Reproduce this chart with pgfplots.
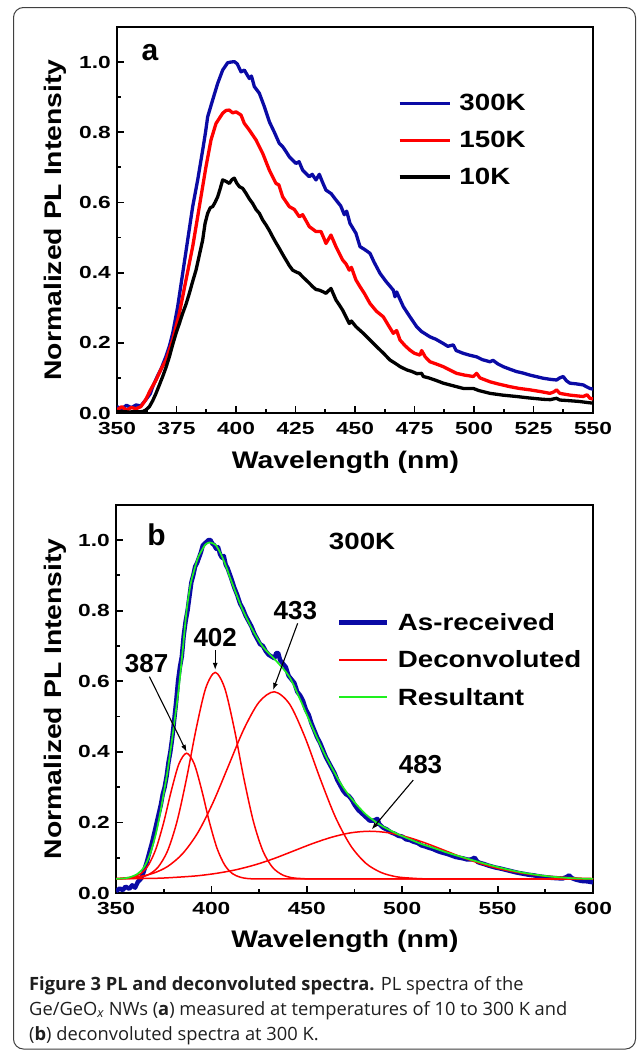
\documentclass[border=0pt]{standalone}
\usepackage{fontspec}
\setmainfont{Liberation Sans}
\newfontfamily\chartS[FakeStretch=1.18]{Liberation Sans}
\newfontfamily\chartT[FakeStretch=1.3]{Liberation Sans}
\newfontfamily\chartN{Liberation Sans}
\newfontfamily\capfont{Open Sans}
\usepackage{pgfplots}
\pgfplotsset{compat=1.18}
\usetikzlibrary{arrows.meta}

\definecolor{cblue}{RGB}{10,10,165}
\definecolor{cred}{RGB}{255,0,0}
\definecolor{cgreen}{RGB}{30,240,30}

\pgfplotsset{
  panel/.style={
    scale only axis,
    axis line style={line width=2pt},
    tick align=inside, tick pos=left,
    major tick length=7pt, minor tick length=4pt,
    every tick/.style={black, line width=1.8pt},
    ymin=0, ymax=1.1,
    ytick={0,0.2,0.4,0.6,0.8,1.0},
    minor y tick num=1,
    minor x tick num=1,
    /pgf/number format/assume math mode=true,
    tick label style={font=\chartT\fontsize{17.5}{19}\selectfont\bfseries, inner sep=0pt},
    yticklabel style={/pgf/number format/.cd, fixed, fixed zerofill, precision=1, /tikz/.cd, anchor=east, xshift=-6pt},
    xticklabel style={anchor=north, yshift=-9pt},
    label style={font=\chartS\fontsize{24}{26}\selectfont\bfseries},
    xlabel={Wavelength (nm)},
    ylabel={Normalized PL Intensity},
    legend style={draw=none, fill=none, inner sep=0pt, outer sep=0pt,
      font=\chartS\fontsize{23.5}{26}\selectfont\bfseries,
      nodes={inner sep=0pt},
      row sep=19pt,
      /tikz/every odd column/.append style={column sep=8pt}},
    legend cell align=left,
  }
}

\begin{document}
\begin{tikzpicture}
\useasboundingbox (0pt,0pt) rectangle (637pt,-1052pt);
\fill[white] (0pt,0pt) rectangle (637pt,-1052pt);
\draw[line width=1pt, black!75, rounded corners=10pt] (13.5pt,-7.5pt) rectangle (635.5pt,-1049pt);

% ---------------- panel a ----------------
\begin{axis}[panel,
  at={(117pt,-413pt)}, anchor=south west,
  width=476pt, height=386.1pt,
  xmin=350, xmax=550,
  xtick={350,375,...,550},
  xlabel style={at={(axis description cs:0.48,-0.129)}, anchor=center},
  ylabel style={at={(axis description cs:-0.130,0.5)}, anchor=center},
  legend style={at={(0.59,0.825)}, anchor=north west},
  legend image code/.code={\draw[#1] (0pt,0pt) -- (50pt,0pt);},
]
\addplot[cblue, line width=3.3pt, line join=round, forget plot] coordinates {
(350,0.018)(352,0.012)(354,0.022)(356,0.015)(358,0.023)(360,0.020)(362,0.037)(364,0.055)
(365,0.075)(367,0.105)(368.5,0.125)(370.5,0.160)(372,0.190)(373.5,0.230)(375.5,0.303)
(377.6,0.398)(379.7,0.493)(381.8,0.588)(383.9,0.664)(386,0.749)(387.2,0.800)(388.1,0.844)
(390.2,0.892)(392.3,0.939)(394.4,0.977)(396.5,0.998)(398,1.000)(399.3,1.001)(400.5,0.995)
(402.1,0.972)(403.5,0.977)(405.6,0.953)(406.5,0.960)(407.7,0.930)(409.8,0.911)(411.9,0.873)
(414,0.830)(416.1,0.800)(418.2,0.768)(419.6,0.759)(421,0.745)(422.4,0.730)(425.2,0.711)
(426.5,0.716)(428,0.692)(430.8,0.673)(432,0.680)(433.6,0.664)(435,0.680)(436.5,0.655)
(437.8,0.635)(440,0.625)(442,0.607)(444,0.590)(445.5,0.565)(446.5,0.575)(447.9,0.540)
(450.4,0.512)(452.1,0.474)(454,0.466)(456.3,0.455)(458,0.430)(460.5,0.398)(463,0.375)
(466.1,0.350)(466.8,0.331)(467.5,0.345)(470.3,0.303)(473,0.275)(475.9,0.246)(478,0.232)
(481.5,0.217)(484,0.210)(487.1,0.198)(489,0.190)(491.3,0.194)(492.5,0.178)(495.5,0.170)
(498,0.165)(501.1,0.160)(503.5,0.152)(506.7,0.146)(508,0.150)(510,0.140)(512.3,0.132)
(515,0.125)(517.9,0.118)(520.5,0.114)(523.5,0.108)(526,0.104)(529.1,0.099)(532,0.096)
(534.7,0.094)(536,0.100)(537.5,0.104)(538.8,0.092)(540.3,0.085)(543,0.083)(545.9,0.080)
(547.2,0.075)(548.7,0.070)(550,0.068)
};
\addplot[cred, line width=3.3pt, line join=round, forget plot] coordinates {
(350,0.009)(352,0.018)(354,0.008)(356,0.016)(358,0.012)(360,0.018)(362,0.037)(364,0.065)
(366.4,0.094)(368.5,0.125)(370.6,0.151)(373.4,0.208)(376.2,0.284)(379,0.379)(381.8,0.474)
(384.6,0.588)(387.4,0.702)(389.5,0.778)(391.6,0.825)(394.4,0.854)(395.8,0.862)(397.2,0.863)
(398.6,0.855)(400,0.858)(402.1,0.849)(403.5,0.825)(405.6,0.806)(408.4,0.778)(411.2,0.740)
(414,0.692)(416.8,0.654)(418,0.650)(419.6,0.616)(422.4,0.588)(424.5,0.580)(426.6,0.559)
(428,0.565)(430.8,0.531)(433.6,0.517)(435.7,0.517)(436.8,0.500)(437.8,0.483)(439.9,0.507)
(442,0.474)(444.8,0.436)(446.2,0.425)(447.6,0.407)(448.5,0.415)(450.4,0.379)(452.1,0.360)
(454,0.340)(456.3,0.312)(459,0.290)(461.9,0.274)(464,0.250)(466.1,0.227)(467.5,0.235)
(468.9,0.208)(471,0.192)(473.1,0.179)(475,0.170)(477.3,0.165)(478,0.178)(479.5,0.160)
(481.5,0.146)(484,0.140)(487.1,0.132)(490,0.122)(492.7,0.113)(496,0.108)(499.7,0.104)
(501.1,0.113)(502.5,0.100)(506.7,0.089)(510,0.083)(515.1,0.075)(519,0.070)(523.5,0.066)
(528,0.061)(531.9,0.056)(533.5,0.060)(534.7,0.066)(536,0.056)(540.3,0.051)(543,0.049)
(545.9,0.047)(547.5,0.052)(548.7,0.042)(550,0.040)
};
\addplot[black, line width=3.3pt, line join=round, forget plot] coordinates {
(350,0.004)(355,0.003)(360.8,0.004)(362,0.008)(363.6,0.018)(365,0.035)(366.4,0.056)
(367.8,0.080)(369.2,0.104)(370.6,0.130)(372,0.160)(373.4,0.195)(374.8,0.227)(376.2,0.255)
(377.6,0.284)(379,0.310)(380.4,0.341)(381.8,0.375)(383.2,0.407)(384.6,0.450)(386,0.493)
(387,0.540)(388.1,0.569)(389.2,0.585)(390.2,0.588)(391.2,0.600)(392.3,0.616)(393.4,0.640)
(394.4,0.664)(395.8,0.660)(397.2,0.654)(398.3,0.665)(399.3,0.669)(400.3,0.655)(401.4,0.645)
(402.8,0.640)(404.2,0.626)(405.6,0.610)(407,0.597)(408.4,0.580)(409.8,0.569)(411.2,0.550)
(412.6,0.536)(414,0.520)(415.4,0.502)(416.8,0.485)(418.2,0.469)(419.6,0.452)(421,0.436)
(422.4,0.420)(423.8,0.407)(425.2,0.402)(426.6,0.398)(428,0.388)(429.4,0.379)(430.8,0.370)
(432.2,0.360)(433.6,0.352)(435,0.350)(436.4,0.346)(437.8,0.341)(439.9,0.355)(442,0.322)
(443.4,0.308)(444.8,0.293)(446.2,0.274)(447.6,0.255)(448.5,0.262)(450.4,0.246)(453.5,0.227)
(456,0.210)(459.1,0.189)(462,0.170)(464.7,0.151)(466.8,0.142)(469,0.132)(471.7,0.123)
(474,0.118)(476,0.112)(478,0.113)(478.7,0.104)(481,0.100)(484,0.093)(487.1,0.085)
(491,0.078)(495.5,0.070)(499.7,0.070)(502,0.064)(506.7,0.056)(512,0.051)(517.9,0.047)
(523,0.043)(529.1,0.039)(532,0.038)(534.7,0.042)(536,0.037)(540.3,0.035)(544,0.033)
(548.7,0.029)(550,0.028)
};
\addlegendimage{cblue, line width=3.6pt}
\addlegendentry{300K}
\addlegendimage{cred, line width=3.6pt}
\addlegendentry{150K}
\addlegendimage{black, line width=3.6pt}
\addlegendentry{10K}
\node[font=\chartN\fontsize{30}{32}\selectfont\bfseries, inner sep=0pt] at (axis cs:363.9,1.026) {a};
\end{axis}

% ---------------- panel b ----------------
\begin{axis}[panel,
  at={(116pt,-893pt)}, anchor=south west,
  width=477pt, height=388.3pt,
  xmin=350, xmax=600,
  xtick={350,400,...,600},
  xlabel style={at={(axis description cs:0.48,-0.124)}, anchor=center},
  ylabel style={at={(axis description cs:-0.128,0.5)}, anchor=center},
  legend style={at={(0.463,0.721)}, anchor=north west},
  legend image code/.code={\draw[#1] (0pt,0pt) -- (48pt,0pt);},
]
\addplot[cblue, line width=4.4pt, line join=round, forget plot] coordinates {
(350,0.005)(352,0.013)(353.5,0.008)(355,0.018)(357,0.012)(358.5,0.022)(360,0.015)(361.5,0.032)
(363,0.040)(364.5,0.060)(366,0.085)(367.5,0.115)(369,0.145)(370.5,0.180)(372,0.215)(373.5,0.250)
(374.5,0.280)(375.5,0.300)(376.5,0.330)(377.5,0.370)(378.5,0.400)(379.5,0.440)(380.5,0.490)
(381.5,0.540)(382.5,0.600)(383.5,0.640)(384.5,0.670)(385.5,0.730)(386.5,0.770)(387.5,0.800)
(388.5,0.840)(389.5,0.880)(390.5,0.900)(391.5,0.925)(392.5,0.935)(393.5,0.950)(394.5,0.965)
(395.5,0.985)(396.5,0.990)(397.5,0.995)(398.5,1.000)(399.5,1.000)(400.5,0.990)(401.5,0.985)
(402.5,0.975)(403.5,0.980)(404.5,0.960)(405.5,0.950)(406.5,0.955)(407.5,0.930)(408.5,0.920)
(409.5,0.905)(410.5,0.890)(412,0.865)(413.5,0.845)(415,0.820)(416.5,0.805)(418,0.785)
(419.5,0.770)(421,0.755)(422.5,0.735)(424,0.720)(425.5,0.705)(427,0.700)(428.5,0.685)
(430,0.675)(431.5,0.670)(433,0.665)(434,0.680)(435,0.680)(436,0.660)(437.5,0.650)(439,0.640)
(440.5,0.615)(442,0.605)(443.5,0.595)(445,0.570)(446.5,0.560)(448,0.545)(449.5,0.520)
(451,0.505)(452.5,0.480)(454,0.460)(455.5,0.440)(457,0.425)(458.5,0.405)(460,0.385)
(461.5,0.370)(463,0.355)(464.5,0.340)(466,0.320)(467.5,0.305)(469,0.290)(470.5,0.280)
(472,0.275)(473.5,0.265)(475,0.250)(477,0.235)(479,0.225)(481,0.215)(483,0.205)(485,0.205)
(487,0.210)(488,0.195)(490,0.185)(492,0.180)(494,0.172)(496,0.168)(498,0.162)(500,0.160)
(502,0.152)(504,0.150)(506,0.145)(508,0.142)(510,0.135)(512,0.132)(514,0.128)(516,0.125)
(518,0.120)(520,0.116)(522,0.113)(524,0.110)(526,0.106)(528,0.102)(530,0.100)(532,0.098)
(534,0.095)(536,0.095)(538,0.100)(539.5,0.088)(541,0.085)(543,0.082)(545,0.078)(547,0.075)
(549,0.072)(551,0.070)(554,0.066)(557,0.062)(560,0.058)(563,0.055)(566,0.052)(569,0.050)
(572,0.047)(575,0.045)(578,0.043)(581,0.042)(584,0.041)(586,0.045)(587.5,0.050)(589,0.042)
(591,0.038)(594,0.034)(597,0.033)(600,0.030)
};
\addplot[cred, line width=1.5pt, smooth, forget plot] coordinates {
(350,0.040)(355,0.041)(359,0.045)(363,0.055)(367,0.079)(371,0.126)(375,0.200)(379,0.290)
(383,0.366)(387,0.396)(391,0.366)(395,0.290)(399,0.200)(403,0.126)(407,0.079)(411,0.055)
(415,0.045)(419,0.041)(425,0.040)(450,0.040)(500,0.040)(550,0.040)(600,0.040)
};
\addplot[cred, line width=1.5pt, smooth, forget plot] coordinates {
(350,0.040)(357,0.041)(362,0.0435)(367,0.052)(372,0.073)(377,0.119)(382,0.203)(387,0.325)
(392,0.465)(397,0.580)(402,0.625)(407,0.580)(412,0.465)(417,0.325)(422,0.203)(427,0.119)
(432,0.073)(437,0.052)(442,0.0435)(447,0.041)(455,0.040)(500,0.040)(550,0.040)(600,0.040)
};
\addplot[cred, line width=1.5pt, smooth, forget plot] coordinates {
(350,0.041)(361,0.046)(369,0.055)(377,0.075)(385,0.112)(393,0.172)(401,0.258)(409,0.361)
(417,0.464)(425,0.541)(433,0.570)(441,0.535)(449,0.442)(457,0.324)(465,0.215)(473,0.134)
(481,0.084)(489,0.058)(497,0.046)(505,0.042)(515,0.040)(550,0.040)(600,0.040)
};
\addplot[cred, line width=1.5pt, smooth, forget plot] coordinates {
(350,0.0405)(363,0.041)(373,0.042)(383,0.045)(393,0.049)(403,0.056)(413,0.066)(423,0.080)
(433,0.098)(443,0.119)(453,0.140)(463,0.158)(473,0.1705)(483,0.175)(493,0.1705)(503,0.158)
(513,0.140)(523,0.119)(533,0.098)(543,0.080)(553,0.066)(563,0.056)(573,0.049)(583,0.045)
(593,0.042)(600,0.041)
};
\addplot[cgreen, line width=1.7pt, smooth, forget plot] coordinates {
(350,0.040)(355,0.042)(358,0.046)(361,0.053)(363,0.062)(365,0.076)(367,0.098)(369,0.130)
(371,0.170)(373,0.222)(375,0.282)(377,0.345)(379,0.420)(381,0.500)(383,0.585)(385,0.690)
(387,0.800)(389,0.872)(391,0.915)(393,0.950)(395.4,0.975)(397,0.988)(399,0.993)(401,0.990)
(402.4,0.985)(405,0.960)(407.7,0.925)(410,0.890)(412.9,0.849)(416.4,0.802)(421.6,0.745)
(426.9,0.698)(433.9,0.658)(440.8,0.613)(446.1,0.553)(450,0.505)(455.1,0.443)(459.5,0.392)
(463.8,0.348)(468,0.308)(472.6,0.273)(477,0.245)(481.3,0.221)(486,0.202)(490,0.188)
(495,0.174)(498.8,0.164)(505,0.150)(510,0.139)(516.2,0.128)(525,0.112)(533.7,0.098)
(542,0.085)(551.1,0.072)(560,0.061)(568.6,0.053)(577,0.047)(586,0.043)(593,0.041)(600,0.040)
};
\addlegendimage{cblue, line width=5pt}
\addlegendentry{As-received}
\addlegendimage{cred, line width=1.8pt}
\addlegendentry{Deconvoluted}
\addlegendimage{cgreen, line width=2pt}
\addlegendentry{Resultant}
\node[font=\chartN\fontsize{30}{32}\selectfont\bfseries, inner sep=0pt] at (axis cs:371.2,1.014) {b};
\node[font=\chartS\fontsize{23.5}{26}\selectfont\bfseries, inner sep=0pt] at (axis cs:479,0.997) {300K};
\begin{scope}[font=\chartN\fontsize{26}{28}\selectfont\bfseries]
\node[inner sep=0pt] at (axis cs:366,0.65) {387};
\node[inner sep=0pt] at (axis cs:402,0.724) {402};
\node[inner sep=0pt] at (axis cs:444,0.80) {433};
\node[inner sep=0pt] at (axis cs:509.6,0.365) {483};
\end{scope}
\draw[line width=1.1pt, -{Latex[length=7pt,width=5pt]}] (axis cs:367.5,0.613) -- (axis cs:387,0.40);
\draw[line width=1.1pt, -{Latex[length=7pt,width=5pt]}] (axis cs:402,0.688) -- (axis cs:402,0.632);
\draw[line width=1.1pt, -{Latex[length=7pt,width=5pt]}] (axis cs:445.2,0.764) -- (axis cs:432.3,0.575);
\draw[line width=1.1pt, -{Latex[length=7pt,width=5pt]}] (axis cs:505.8,0.32) -- (axis cs:484,0.18);
\end{axis}

% ---------------- caption ----------------
\begin{scope}[every node/.style={anchor=base west, inner sep=0pt, text=black!88, font=\capfont\fontsize{18.3}{22}\selectfont}]
\node at (29pt,-990pt) {\textbf{Figure 3 PL and deconvoluted spectra.} PL spectra of the};
\node at (29pt,-1015pt) {Ge/GeO\textsubscript{\itshape x} NWs (\textbf{a}) measured at temperatures of 10 to 300 K and};
\node at (29pt,-1040pt) {(\textbf{b}) deconvoluted spectra at 300 K.};
\end{scope}
\end{tikzpicture}
\end{document}
